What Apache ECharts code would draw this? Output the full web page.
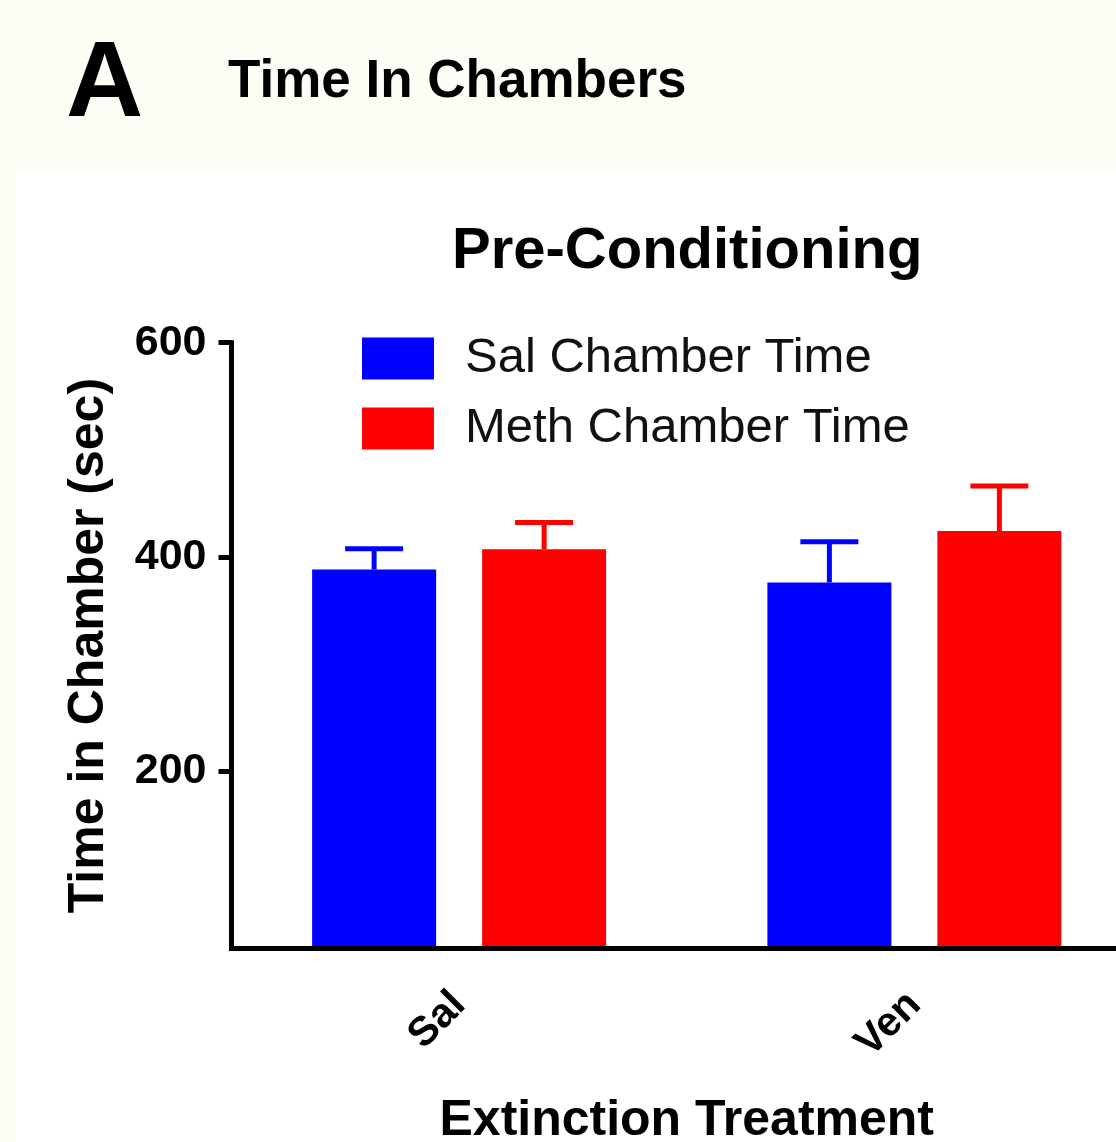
<!DOCTYPE html>
<html>
<head>
<meta charset="utf-8">
<script src="https://cdn.jsdelivr.net/npm/echarts@6/dist/echarts.min.js"></script>
<style>
html,body{margin:0;padding:0;background:#fdfdf5;}
#chart{width:1116px;height:1142px;}
</style>
</head>
<body>
<div id="chart"></div>
<script>
// ---- data ----
const categories = ['Sal', 'Ven'];
const salChamberTime = [388, 376];
const salChamberSem = [19.5, 38];
const methChamberTime = [407, 424];
const methChamberSem = [25, 42];
const yTickValues = [200, 400, 600];
const yMin = 34;
const yMax = 600;

// ---- layout constants ----
const FONT = '"Liberation Sans", Arial, sans-serif';
const BAR_W = 124;
const BAR_GAP_PX = 46;
const BAR_OFFSET = (BAR_W + BAR_GAP_PX) / 2;

function errorRenderer(offset, color) {
  return function (params, api) {
    const cat = api.value(0);
    const val = api.value(1);
    const sem = api.value(2);
    const base = api.coord([cat, val]);
    const top = api.coord([cat, val + sem]);
    const x = base[0] + offset;
    const half = 29;
    const style = { stroke: color, lineWidth: 5, fill: null };
    return {
      type: 'group',
      children: [
        { type: 'line', shape: { x1: x, y1: base[1], x2: x, y2: top[1] }, style: style },
        { type: 'line', shape: { x1: x - half, y1: top[1], x2: x + half, y2: top[1] }, style: style }
      ]
    };
  };
}

const chart = echarts.init(document.getElementById('chart'));
chart.setOption({
  backgroundColor: '#fdfdf5',
  animation: false,
  graphic: [{
    type: 'rect', z: -10, silent: true,
    shape: { x: 16, y: 173, width: 1100, height: 969 },
    style: { fill: '#ffffff' }
  }],
  title: [
    { text: 'A', left: 66, top: 33, padding: 0,
      textStyle: { fontSize: 107, fontWeight: 'bold', color: '#000', fontFamily: FONT } },
    { text: 'Time In Chambers', left: 228, top: 56, padding: 0,
      textStyle: { fontSize: 53, fontWeight: 'bold', color: '#000', fontFamily: FONT } },
    { text: 'Pre-Conditioning', left: 452, top: 223, padding: 0,
      textStyle: { fontSize: 58, fontWeight: 'bold', color: '#000', fontFamily: FONT } }
  ],
  legend: {
    orient: 'vertical', left: 362, top: 334, padding: 0,
    itemWidth: 72, itemHeight: 42, itemGap: 21, icon: 'rect',
    data: ['Sal Chamber Time', 'Meth Chamber Time'],
    textStyle: { fontSize: 49, color: '#111', fontFamily: FONT, padding: [0, 0, 0, 26] }
  },
  grid: { left: 231.5, top: 342.7, right: -26, bottom: 193.5, outerBoundsMode: 'none' },
  xAxis: {
    type: 'category', data: categories, z: 5,
    name: 'Extinction Treatment', nameLocation: 'middle', nameGap: 148,
    nameTextStyle: { fontSize: 50, fontWeight: 'bold', color: '#000', fontFamily: FONT },
    axisLine: { lineStyle: { color: '#000', width: 5, cap: 'square' } },
    axisTick: { alignWithLabel: true, length: 19, lineStyle: { color: '#000', width: 5 } },
    axisLabel: { rotate: 45, margin: 50, fontSize: 41, fontWeight: 'bold', color: '#000', fontFamily: FONT },
    splitLine: { show: false }
  },
  yAxis: {
    type: 'value', min: yMin, max: yMax, z: 5,
    name: 'Time in Chamber (sec)', nameLocation: 'middle', nameGap: 117,
    nameTextStyle: { fontSize: 50, fontWeight: 'bold', color: '#000', fontFamily: FONT },
    axisLine: { show: true, lineStyle: { color: '#000', width: 5, cap: 'square' } },
    axisTick: { show: true, length: 13, customValues: yTickValues, lineStyle: { color: '#000', width: 5 } },
    axisLabel: { margin: 25, fontSize: 43, fontWeight: 'bold', color: '#000', fontFamily: FONT, customValues: yTickValues },
    splitLine: { show: false }
  },
  series: [
    { name: 'Sal Chamber Time', type: 'bar', data: salChamberTime, barWidth: BAR_W, barGap: (BAR_GAP_PX / BAR_W * 100) + '%',
      itemStyle: { color: '#0000ff' } },
    { name: 'Meth Chamber Time', type: 'bar', data: methChamberTime, barWidth: BAR_W,
      itemStyle: { color: '#ff0000' } },
    { type: 'custom', z: 3, clip: false, renderItem: errorRenderer(-BAR_OFFSET, '#0000ff'),
      data: categories.map((c, i) => [i, salChamberTime[i], salChamberSem[i]]) },
    { type: 'custom', z: 3, clip: false, renderItem: errorRenderer(BAR_OFFSET, '#ff0000'),
      data: categories.map((c, i) => [i, methChamberTime[i], methChamberSem[i]]) }
  ]
});
</script>
</body>
</html>
